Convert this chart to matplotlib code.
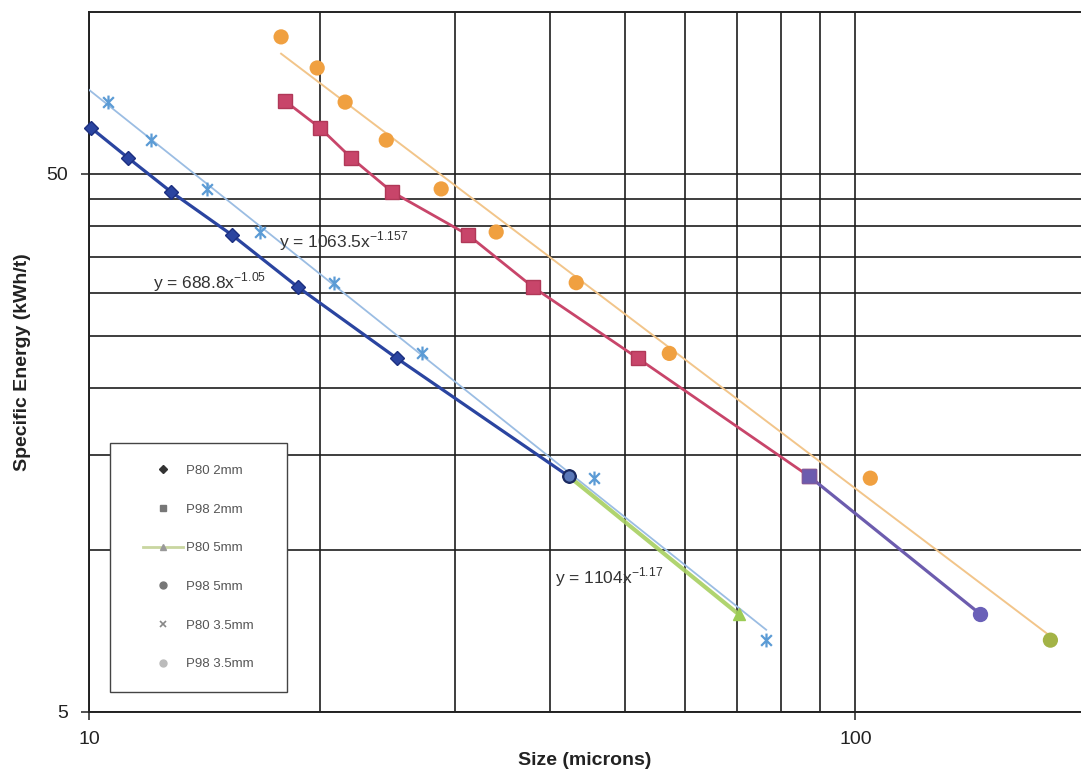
import matplotlib
matplotlib.use("Agg")
import matplotlib.pyplot as plt
from matplotlib.lines import Line2D
from matplotlib.patches import Rectangle
from matplotlib.path import Path
from matplotlib.ticker import FixedLocator, FixedFormatter, NullFormatter
import numpy as np

# ---------------- data ----------------
p80_2mm_x = [10.06, 11.24, 12.80, 15.37, 18.74, 25.24, 42.3]
p80_2mm_y = [60.9, 53.6, 46.3, 38.5, 30.8, 22.7, 13.7]

p98_2mm_x = [18.03, 20.02, 21.98, 24.86, 31.25, 37.98, 52.08, 87.1]
p98_2mm_y = [68.3, 60.9, 53.6, 46.3, 38.5, 30.8, 22.7, 13.7]

p80_5mm_x = [42.3, 70.4]
p80_5mm_y = [13.7, 7.6]

p98_5mm_x = [87.1, 145.6]
p98_5mm_y = [13.7, 7.6]

p80_35mm_x = [10.59, 12.05, 14.26, 16.72, 20.88, 27.21, 45.63, 76.5]
p80_35mm_y = [68.0, 57.8, 46.9, 39.0, 31.4, 23.2, 13.6, 6.8]

p98_35mm_x = [17.81, 19.85, 21.59, 24.43, 28.81, 33.99, 43.23, 57.18, 104.6, 179.7]
p98_35mm_y = [89.9, 78.7, 68.0, 57.8, 46.9, 39.0, 31.4, 23.2, 13.6, 6.8]

legend_labels = ["P80 2mm", "P98 2mm", "P80 5mm", "P98 5mm", "P80 3.5mm", "P98 3.5mm"]
equations = [r"y = 688.8x$^{\mathregular{-1.05}}$",
             r"y = 1063.5x$^{\mathregular{-1.157}}$",
             r"y = 1104x$^{\mathregular{-1.17}}$"]

x_major = [10, 100]
x_minor = [20, 30, 40, 50, 60, 70, 80, 90]
y_major = [5, 50]
y_minor = [10, 15, 20, 25, 30, 35, 40, 45]

# ---------------- style ----------------
plt.rcParams["font.family"] = ["Liberation Sans", "DejaVu Sans"]
plt.rcParams["mathtext.fontset"] = "custom"
plt.rcParams["mathtext.rm"] = "Liberation Sans"

c_dblue = "#2a44a0"
c_red = "#c8456a"
c_green = "#a8d060"
c_purple = "#6c5cae"
c_lblue = "#5b9bd5"
c_lblue_line = "#9bbde3"
c_orange = "#f0a040"
c_orange_line = "#f2c58a"
c_olive = "#a3b346"

star = Path([(-1, -1), (1, 1), (-1, 1), (1, -1), (0, -1.3), (0, 1.3)],
            [Path.MOVETO, Path.LINETO, Path.MOVETO, Path.LINETO, Path.MOVETO, Path.LINETO])

fig = plt.figure(figsize=(10.81, 7.77), dpi=100)
ax = fig.add_axes([89 / 1081, 65 / 777, 992 / 1081, 700 / 777])
ax.set_xscale("log")
ax.set_yscale("log")
ax.set_xlim(10, 197)
ax.set_ylim(5, 100)

ax.xaxis.set_major_locator(FixedLocator(x_major))
ax.xaxis.set_major_formatter(FixedFormatter([str(v) for v in x_major]))
ax.xaxis.set_minor_locator(FixedLocator(x_minor))
ax.xaxis.set_minor_formatter(NullFormatter())
ax.yaxis.set_major_locator(FixedLocator(y_major))
ax.yaxis.set_major_formatter(FixedFormatter([str(v) for v in y_major]))
ax.yaxis.set_minor_locator(FixedLocator(y_minor))
ax.yaxis.set_minor_formatter(NullFormatter())

ax.grid(which="both", color="#1e1e1e", lw=1.2, zorder=0)
ax.set_axisbelow(True)
ax.tick_params(which="major", length=6, width=1.2, color="#333", labelsize=14,
               labelcolor="#222")
ax.tick_params(axis="x", which="major", pad=8)
ax.tick_params(axis="y", which="major", pad=9)
ax.tick_params(which="minor", length=0)
for s in ["left", "bottom", "top"]:
    ax.spines[s].set_color("#222")
    ax.spines[s].set_linewidth(1.4)
ax.spines["right"].set_visible(False)

# ---------------- lines ----------------
ax.plot(p80_2mm_x, p80_2mm_y, color=c_dblue, lw=2.3, zorder=3)
ax.plot(p98_2mm_x, p98_2mm_y, color=c_red, lw=2.0, zorder=3)
ax.plot(p80_5mm_x, p80_5mm_y, color=c_green, lw=3.0, zorder=3.5, alpha=0.9)
ax.plot(p98_5mm_x, p98_5mm_y, color=c_purple, lw=2.3, zorder=3)

# power trendlines for the 3.5 mm series
b1, a1 = np.polyfit(np.log10(p80_35mm_x), np.log10(p80_35mm_y), 1)
xt1 = np.array([10, max(p80_35mm_x)])
ax.plot(xt1, 10 ** a1 * xt1 ** b1, color=c_lblue_line, lw=1.3, zorder=3.2)
b2, a2 = np.polyfit(np.log10(p98_35mm_x), np.log10(p98_35mm_y), 1)
xt2 = np.array([min(p98_35mm_x), max(p98_35mm_x)])
ax.plot(xt2, 10 ** a2 * xt2 ** b2, color=c_orange_line, lw=1.4, zorder=3.2)

# ---------------- markers ----------------
ax.plot(p80_2mm_x, p80_2mm_y, ls="none", marker="D", ms=7, color=c_dblue,
        mec="#1c2f80", zorder=5, clip_on=False)
ax.plot(p98_2mm_x, p98_2mm_y, ls="none", marker="s", ms=10, color=c_red,
        mec="#b03858", zorder=5)
ax.plot(p80_35mm_x, p80_35mm_y, ls="none", marker=star, ms=10, mew=1.6,
        mec=c_lblue, zorder=5)
orange_cols = [c_orange] * (len(p98_35mm_x) - 1) + [c_olive]
ax.scatter(p98_35mm_x, p98_35mm_y, s=120, c=orange_cols, marker="o",
           edgecolors="none", zorder=5)
ax.plot(p80_5mm_x[:1], p80_5mm_y[:1], ls="none", marker="o", ms=9,
        mfc="#5a78b8", mec="#1a2a60", mew=1.6, zorder=6)
ax.plot(p80_5mm_x[1:], p80_5mm_y[1:], ls="none", marker="^", ms=9,
        color="#9ccc55", zorder=6)
ax.plot(p98_5mm_x[:1], p98_5mm_y[:1], ls="none", marker="s", ms=10,
        color=c_purple, mec="#7a5aa0", zorder=6)
ax.plot(p98_5mm_x[1:], p98_5mm_y[1:], ls="none", marker="o", ms=10,
        color="#6a60b8", zorder=6)

# ---------------- equations ----------------
eq_pos = [(0.0645, 0.614), (0.1915, 0.672), (0.470, 0.193)]
for txt, (px, py) in zip(equations, eq_pos):
    ax.text(px, py, txt, transform=ax.transAxes, fontsize=12.5, color="#333",
            ha="left", va="center", zorder=7)

# ---------------- labels ----------------
ax.set_xlabel("Size (microns)", fontsize=14, fontweight="bold", color="#222")
ax.xaxis.set_label_coords(0.5, -0.057)
ax.set_ylabel("Specific Energy (kWh/t)", fontsize=14, fontweight="bold", color="#222")
ax.yaxis.set_label_coords(-0.058, 0.5)

# ---------------- legend ----------------
rect = Rectangle((0.0212, 0.0286), 0.1784, 0.3557, transform=ax.transAxes,
                 facecolor="white", edgecolor="#444", lw=1.0, zorder=8)
ax.add_patch(rect)
handles = [
    Line2D([], [], ls="none", marker="D", ms=4, color="#333"),
    Line2D([], [], ls="none", marker="s", ms=5, color="#777"),
    Line2D([], [], ls="-", lw=2, color="#c9d6a0", marker="^", ms=4, mfc="#999", mec="#999"),
    Line2D([], [], ls="none", marker="o", ms=5, color="#777"),
    Line2D([], [], ls="none", marker="x", ms=4, mew=1.2, color="#888"),
    Line2D([], [], ls="none", marker="o", ms=5, color="#bbb"),
]
leg = ax.legend(handles, legend_labels, loc="center",
                bbox_to_anchor=(0.0212 + 0.1784 / 2, 0.0286 + 0.3557 / 2),
                bbox_transform=ax.transAxes, frameon=False, fontsize=9.5,
                handlelength=3.0, handletextpad=0.3, labelspacing=2.0,
                borderpad=0.0, labelcolor="#555")
leg.set_zorder(9)

fig.savefig("out.png", dpi=100, facecolor="white")
